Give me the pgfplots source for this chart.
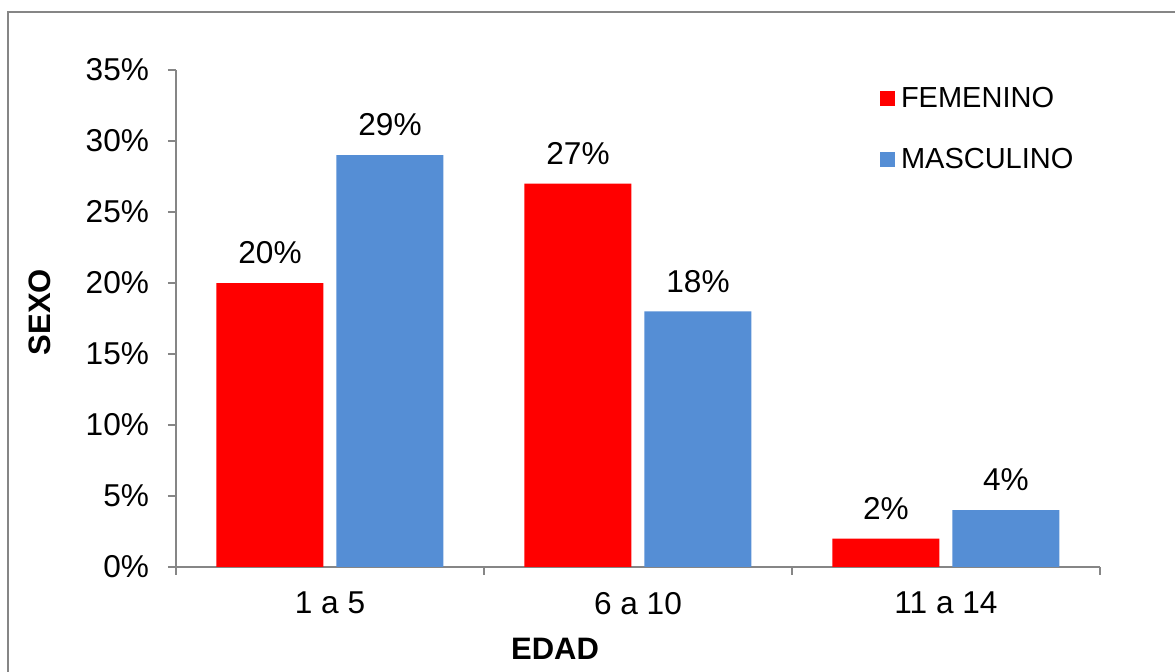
\documentclass[border=0pt]{standalone}
\usepackage{pgfplots}
\pgfplotsset{compat=1.18}
\usepackage{fontspec}
\setmainfont{Liberation Sans}
\definecolor{fem}{HTML}{FF0000}
\definecolor{mas}{HTML}{558ED5}
\definecolor{axgray}{HTML}{868686}
\begin{document}
\begin{tikzpicture}
\draw[axgray, line width=0.9pt] (4pt,-20pt) -- (4pt,329.5pt) -- (600pt,329.5pt);
\begin{axis}[
  at={(88pt,52pt)}, anchor=south west,
  scale only axis, width=462pt, height=248.5pt,
  xmin=-0.5, xmax=2.5, ymin=0, ymax=35,
  axis x line=bottom, axis y line=left,
  axis line style={-, axgray, line width=0.9pt},
  xtick={0,1,2}, xticklabels={1 a 5, 6 a 10, 11 a 14},
  major x tick style={draw=none},
  minor xtick={-0.5,0.5,1.5,2.5},
  minor tick length=4pt,
  ytick={0,5,...,35},
  yticklabel={\pgfmathprintnumber{\tick}\%},
  tick align=outside, major tick length=4pt,
  tick style={axgray, line width=0.9pt},
  ticklabel style={font=\fontsize{15.8}{18}\selectfont},
  /pgf/number format/assume math mode=true,
  xticklabel style={yshift=-5pt},
  yticklabel style={xshift=-6pt},
  ybar, bar width=53.5pt,
  nodes near coords={\pgfmathprintnumber{\pgfplotspointmeta}\%},
  nodes near coords style={font=\fontsize{15.8}{18}\selectfont, yshift=6pt},
  legend style={draw=none, at={(0.755,0.983)}, anchor=north west, font=\fontsize{14.5}{17}\selectfont,
    row sep=15pt, legend cell align=left, fill=none},
  legend image code/.code={\fill (0pt,-3.75pt) rectangle (7.5pt,3.75pt); \path (8.5pt,0pt);},
  clip=false,
]
\addplot[fill=fem, draw=none, bar shift=-30pt] coordinates {(0,20) (1,27) (2,2)};
\addplot[fill=mas, draw=none, bar shift=30pt] coordinates {(0,29) (1,18) (2,4)};
\legend{FEMENINO, MASCULINO}
\end{axis}
\node[font=\bfseries\fontsize{15.5}{18}\selectfont] at (277.5pt,11pt) {EDAD};
\node[font=\bfseries\fontsize{15.5}{18}\selectfont, rotate=90] at (20pt,179.5pt) {SEXO};
\pgfresetboundingbox
\path[use as bounding box] (0,0) rectangle (587.5pt,335.5pt);
\end{tikzpicture}
\end{document}
